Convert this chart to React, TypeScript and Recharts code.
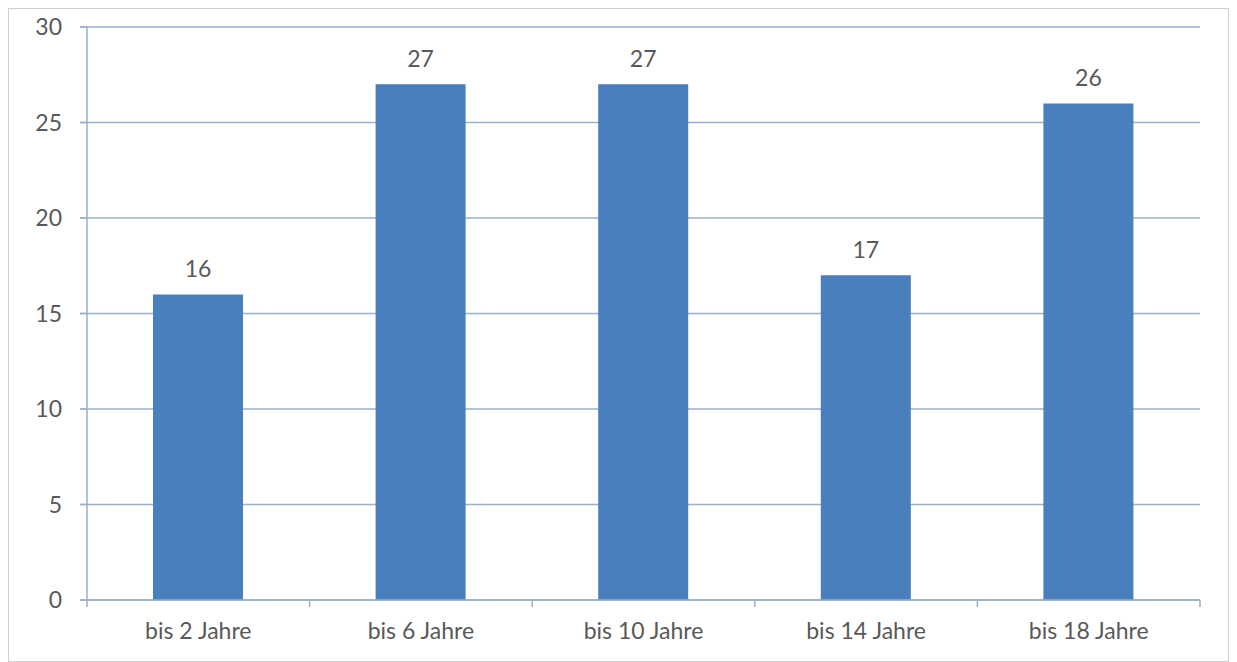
import React from 'react';
import { BarChart, Bar, XAxis, YAxis, CartesianGrid, LabelList } from 'recharts';

const categories = ['bis 2 Jahre', 'bis 6 Jahre', 'bis 10 Jahre', 'bis 14 Jahre', 'bis 18 Jahre'];
const counts = [16, 27, 27, 17, 26];
const yTicks = [0, 5, 10, 15, 20, 25, 30];

const data = categories.map((name, i) => ({ name, value: counts[i] }));

const W = 1219;
const H = 652;
const margin = { top: 18, right: 28, left: 0, bottom: 0 };
const yAxisWidth = 78;
const xAxisHeight = 61;
const plotWidth = W - margin.left - margin.right - yAxisWidth;
const band = plotWidth / categories.length;

const axisColor = '#9aafc9';
const textColor = '#595959';
const font = 'Lato, "Open Sans", sans-serif';
const fontSize = 23;

// category separators: Excel draws the x ticks between categories, not at centres
const XTick = (props: any) => {
  const { x, y, payload, index } = props;
  const left = x - band / 2;
  const right = x + band / 2;
  return (
    <g>
      <line x1={left} y1={y - 8} x2={left} y2={y - 1} stroke={axisColor} strokeWidth={1.5} />
      {index === categories.length - 1 && (
        <line x1={right} y1={y - 8} x2={right} y2={y - 1} stroke={axisColor} strokeWidth={1.5} />
      )}
      <text x={x} y={y + 31} textAnchor="middle" fill={textColor} fontSize={fontSize} fontFamily={font}>
        {payload.value}
      </text>
    </g>
  );
};

export default function App() {
  return (
    <div style={{ width: W + 2, height: H + 2, border: '1px solid #cfcfcf', boxSizing: 'border-box', background: '#fff' }}>
      <BarChart width={W} height={H} data={data} margin={margin}>
        <CartesianGrid
          vertical={false}
          stroke={axisColor}
          strokeWidth={1.5}
          x={yAxisWidth - 7}
          width={plotWidth + 7}
        />
        <XAxis
          dataKey="name"
          height={xAxisHeight}
          axisLine={{ stroke: axisColor, strokeWidth: 1.5 }}
          tickLine={false}
          tick={<XTick />}
          interval={0}
        />
        <YAxis
          width={yAxisWidth}
          domain={[0, 30]}
          ticks={yTicks}
          interval={0}
          axisLine={{ stroke: axisColor, strokeWidth: 1.5 }}
          tickLine={{ stroke: axisColor, strokeWidth: 1.5 }}
          tickSize={7}
          tickMargin={18}
          tick={{ fill: textColor, fontSize, fontFamily: font }}
        />
        <Bar dataKey="value" fill="#4a7fbd" barSize={90} isAnimationActive={false}>
          <LabelList dataKey="value" position="top" offset={17} fill={textColor} fontSize={fontSize} fontFamily={font} />
        </Bar>
      </BarChart>
    </div>
  );
}
